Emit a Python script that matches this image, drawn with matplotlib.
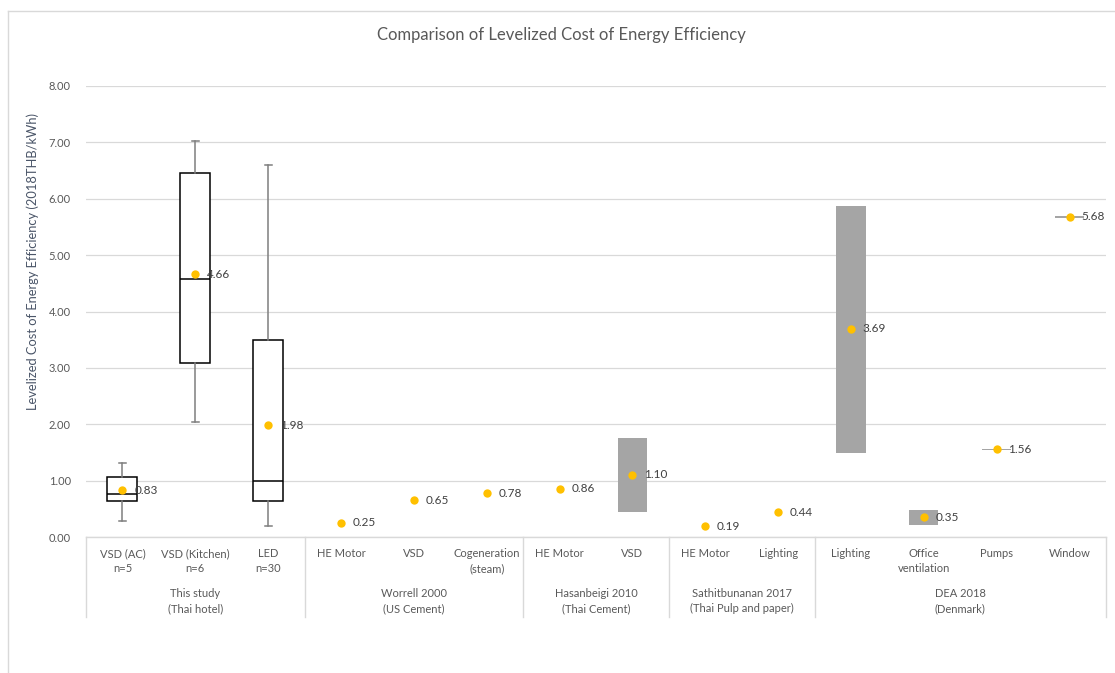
import matplotlib
matplotlib.use("Agg")
import matplotlib.pyplot as plt
from matplotlib.lines import Line2D
import numpy as np

plt.rcParams['font.family'] = ['Lato', 'DejaVu Sans']

# data
categories = ["VSD (AC)\nn=5", "VSD (Kitchen)\nn=6", "LED\nn=30",
              "HE Motor", "VSD", "Cogeneration\n(steam)",
              "HE Motor", "VSD",
              "HE Motor", "Lighting",
              "Lighting", "Office\nventilation", "Pumps", "Window"]
groups = ["This study\n(Thai hotel)", "Worrell 2000\n(US Cement)",
          "Hasanbeigi 2010\n(Thai Cement)", "Sathitbunanan 2017\n(Thai Pulp and paper)",
          "DEA 2018\n(Denmark)"]
group_sizes = [3, 3, 2, 2, 4]
means = [0.83, 4.66, 1.98, 0.25, 0.65, 0.78, 0.86, 1.10, 0.19, 0.44, 3.69, 0.35, 1.56, 5.68]

# box plots (this study)
box_idx = [0, 1, 2]
box_low = [0.29, 2.04, 0.19]
box_q1 = [0.64, 3.08, 0.64]
box_med = [0.76, 4.57, 0.99]
box_q3 = [1.07, 6.46, 3.49]
box_high = [1.32, 7.02, 6.60]

# min-max ranges (literature)
range_idx = [7, 10, 11, 12, 13]
range_lo = [0.44, 1.49, 0.21, 1.55, 5.66]
range_hi = [1.76, 5.87, 0.48, 1.565, 5.70]

W, H = 1115, 673
fig = plt.figure(figsize=(W / 100, H / 100), dpi=100)
ax = fig.add_axes([86 / W, (H - 537) / H, (1106 - 86) / W, (537 - 86) / H])

grey_txt = '#595959'
line_c = '#d9d9d9'

x = np.arange(len(categories))

# gray range bars
ax.bar([x[i] for i in range_idx], np.array(range_hi) - np.array(range_lo),
       bottom=range_lo, width=0.4, color='#a5a5a5', zorder=2)

# boxes
stats = []
for k in range(len(box_idx)):
    stats.append(dict(whislo=box_low[k], q1=box_q1[k], med=box_med[k],
                      q3=box_q3[k], whishi=box_high[k]))
ax.bxp(stats, positions=[x[i] for i in box_idx], widths=0.41, showfliers=False,
       patch_artist=True, capwidths=0.1,
       boxprops=dict(facecolor='white', edgecolor='black', linewidth=1.1),
       medianprops=dict(color='black', linewidth=1.1),
       whiskerprops=dict(color='#7f7f7f', linewidth=1.1),
       capprops=dict(color='#7f7f7f', linewidth=1.1), manage_ticks=False, zorder=3)

# mean points + labels
ax.plot(x, means, 'o', color='#FFC000', markersize=6, markeredgewidth=0, zorder=5)
for xi, m in zip(x, means):
    ax.annotate(f"{m:.2f}", (xi, m), xytext=(8.5, 0), textcoords='offset points',
                ha='left', va='center', fontsize=8.5, color='#404040', zorder=6)

ax.set_xlim(-0.5, len(categories) - 0.5)
ax.set_ylim(0, 8)
ax.set_yticks(np.arange(0, 9, 1))
ax.set_yticklabels([f"{v:.2f}" for v in np.arange(0, 9, 1)])
ax.tick_params(axis='y', length=0, pad=11, labelsize=8, labelcolor=grey_txt)
ax.set_xticks([])
ax.grid(axis='y', color=line_c, linewidth=0.9)
ax.set_axisbelow(True)
for s in ['top', 'right', 'left']:
    ax.spines[s].set_visible(False)
ax.spines['bottom'].set_color(line_c)
ax.spines['bottom'].set_linewidth(1)

# multi-level category axis
tr = ax.get_xaxis_transform()
ah = 537 - 86
for xi, lab in zip(x, categories):
    ax.text(xi, -11 / ah, lab, transform=tr, ha='center', va='top', fontsize=8,
            color=grey_txt, linespacing=1.45)
edges = np.concatenate([[0], np.cumsum(group_sizes)]) - 0.5
for e in edges:
    ax.plot([e, e], [0, -80 / ah], transform=tr, color=line_c, linewidth=1, clip_on=False)
for g, a, b in zip(groups, edges[:-1], edges[1:]):
    ax.text((a + b) / 2, -51 / ah, g, transform=tr, ha='center', va='top', fontsize=8,
            color=grey_txt, linespacing=1.45)

fig.text(561.5 / W, (H - 35) / H, "Comparison of Levelized Cost of Energy Efficiency",
         ha='center', va='center', fontsize=12, color=grey_txt)
fig.text(33 / W, (H - 262) / H, "Levelized Cost of Energy Efficiency (2018THB/kWh)",
         ha='center', va='center', rotation=90, fontsize=9.3, color='#4a5568')

# chart border (cropped)
fig.add_artist(Line2D([8 / W, 8 / W], [0, (H - 11) / H], color=line_c, linewidth=1))
fig.add_artist(Line2D([8 / W, 1], [(H - 11) / H, (H - 11) / H], color=line_c, linewidth=1))

fig.savefig("out.png", dpi=100)
